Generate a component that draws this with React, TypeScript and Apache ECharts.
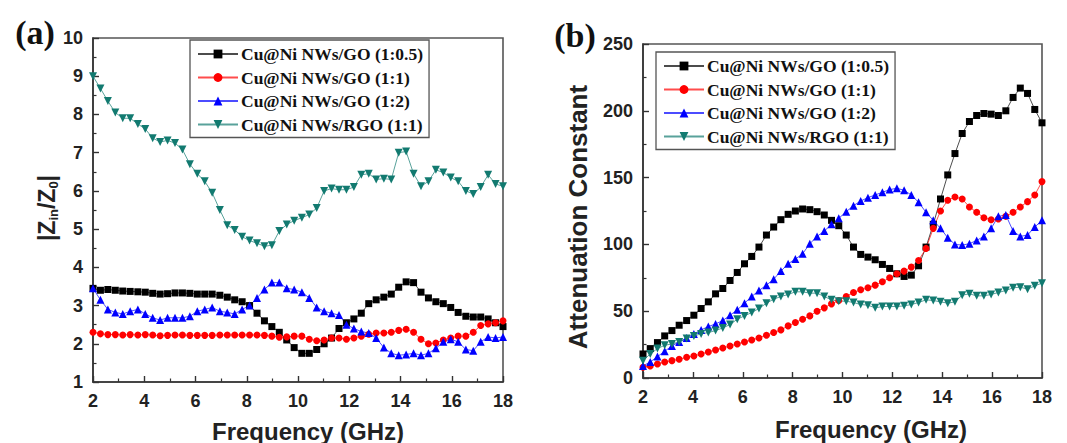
import React, { useEffect, useRef } from "react";
import * as echarts from "echarts";

const freq = [2.00, 2.29, 2.58, 2.87, 3.16, 3.45, 3.75, 4.04, 4.33, 4.62, 4.91, 5.20, 5.49, 5.78, 6.07, 6.36, 6.65, 6.95, 7.24, 7.53, 7.82, 8.11, 8.40, 8.69, 8.98, 9.27, 9.56, 9.85, 10.15, 10.44, 10.73, 11.02, 11.31, 11.60, 11.89, 12.18, 12.47, 12.76, 13.05, 13.35, 13.64, 13.93, 14.22, 14.51, 14.80, 15.09, 15.38, 15.67, 15.96, 16.25, 16.55, 16.84, 17.13, 17.42, 17.71, 18.00];

const seriesNames = ["Cu@Ni NWs/GO (1:0.5)", "Cu@Ni NWs/GO (1:1)", "Cu@Ni NWs/GO (1:2)", "Cu@Ni NWs/RGO (1:1)"];

// Panel (a) |Zin/Z0|
const zGO05 = [3.45, 3.4, 3.42, 3.4, 3.38, 3.37, 3.36, 3.35, 3.32, 3.3, 3.31, 3.33, 3.33, 3.32, 3.3, 3.3, 3.3, 3.27, 3.22, 3.15, 3.1, 3.0, 2.8, 2.6, 2.45, 2.3, 2.1, 1.9, 1.75, 1.75, 1.85, 2.0, 2.15, 2.4, 2.55, 2.65, 2.8, 3.05, 3.15, 3.22, 3.3, 3.48, 3.62, 3.6, 3.35, 3.2, 3.1, 3.05, 2.95, 2.82, 2.72, 2.7, 2.7, 2.65, 2.55, 2.45];
const zGO11 = [2.3, 2.26, 2.24, 2.24, 2.23, 2.24, 2.23, 2.24, 2.23, 2.21, 2.22, 2.23, 2.23, 2.22, 2.22, 2.22, 2.22, 2.23, 2.23, 2.23, 2.23, 2.23, 2.23, 2.22, 2.2, 2.17, 2.18, 2.2, 2.2, 2.12, 2.08, 2.1, 2.15, 2.15, 2.12, 2.15, 2.2, 2.25, 2.28, 2.28, 2.3, 2.35, 2.38, 2.3, 2.12, 2.0, 2.02, 2.1, 2.15, 2.2, 2.2, 2.3, 2.48, 2.52, 2.55, 2.6];
const zGO12 = [3.45, 3.15, 2.9, 2.82, 2.78, 2.85, 2.9, 2.78, 2.68, 2.62, 2.68, 2.68, 2.68, 2.72, 2.85, 2.9, 2.95, 2.85, 2.82, 2.78, 2.9, 3.0, 3.2, 3.42, 3.6, 3.6, 3.45, 3.42, 3.35, 3.2, 2.95, 2.85, 2.8, 2.75, 2.5, 2.4, 2.32, 2.28, 2.15, 1.9, 1.75, 1.7, 1.72, 1.75, 1.7, 1.75, 1.88, 2.05, 2.12, 2.05, 1.85, 1.82, 2.05, 2.18, 2.15, 2.18];
const zRGO11 = [9.0, 8.68, 8.35, 8.05, 7.9, 7.9, 7.75, 7.62, 7.38, 7.28, 7.32, 7.25, 7.08, 6.7, 6.45, 6.25, 5.95, 5.5, 5.1, 4.98, 4.8, 4.7, 4.63, 4.55, 4.58, 4.95, 5.12, 5.22, 5.3, 5.38, 5.55, 6.0, 6.06, 6.03, 6.03, 6.1, 6.42, 6.45, 6.3, 6.32, 6.3, 7.0, 7.03, 6.45, 6.12, 6.25, 6.55, 6.48, 6.35, 6.25, 6.0, 5.92, 6.1, 6.42, 6.18, 6.12];

// Panel (b) Attenuation constant
const aGO05 = [18, 22, 26.5, 31.5, 35.5, 39.5, 43, 47, 52, 57, 63, 67, 73, 79, 85.5, 91, 98, 107, 113, 118.5, 122.5, 125, 126.5, 126, 124.5, 122, 118, 114, 107, 98, 92.5, 90.5, 88.5, 85, 82, 78, 76, 77, 84, 98, 115, 134, 152, 168, 183, 192, 196.5, 198, 197.5, 196.5, 200, 210, 217, 213, 201, 191];
const aGO11 = [8, 9, 10.5, 12, 13, 14, 15.5, 16.5, 18, 19.5, 21, 22.5, 24, 25.5, 27, 28.5, 30, 32, 34, 36, 39, 41.5, 44, 46.5, 50, 52.5, 55.5, 58, 61, 64, 66, 67.5, 69.5, 72, 75, 78, 80, 83, 88, 97, 112, 125, 133, 135.5, 134, 128, 124, 120, 118.5, 119, 121, 124, 128, 132, 137, 147];
const aGO12 = [9, 12, 16, 20, 24, 27, 30, 33, 36, 38.5, 40.5, 43, 47, 51, 56, 61, 65.5, 69.5, 74, 80, 85.5, 89, 93, 100.5, 106, 110, 115, 119.5, 124.5, 129, 132.5, 135, 137, 139, 141, 142, 140.5, 137, 131.5, 124, 118, 112, 105, 100, 99.5, 100.5, 103, 106, 112, 121, 122, 110, 106, 107, 113, 118];
const aRGO11 = [13, 18, 22, 24.5, 25.5, 27, 29.5, 31.5, 33, 34, 35.5, 37.5, 40, 44, 46.5, 49, 52, 56, 59, 61, 62.5, 64.5, 64.5, 63.5, 63.5, 61, 58.5, 57.5, 57.5, 56.5, 55, 54.5, 52.5, 53.5, 53.5, 53.5, 54, 55, 56.5, 58.5, 58, 57, 56, 57, 62, 63, 61.5, 61.5, 62.5, 64, 65.5, 67.5, 68, 66.5, 69, 71];

const colors = ["#000000", "#ff0000", "#0000ff", "#127a70"];
const symbols = ["rect", "circle", "triangle", "path://M0,0 L10,0 L5,9 Z"];
const symbolSizes = [7, 7, 8, 8];

const sans = "'Liberation Sans', Arial, sans-serif";
const serif = "'Liberation Serif', 'Times New Roman', serif";

function axisCommon() {
  return {
    axisLine: { show: true, onZero: false, lineStyle: { color: "#333", width: 1.6 } },
    axisTick: { show: true, inside: true, length: 6, lineStyle: { color: "#333", width: 1.4 } },
    minorTick: { show: true, splitNumber: 2, length: 3.5, lineStyle: { color: "#333", width: 1.2 } },
    splitLine: { show: false },
    axisLabel: { fontFamily: sans, fontWeight: "bold", fontSize: 18, color: "#222", margin: 10 },
  };
}

function makeX(gridIndex: number) {
  return { type: "value", gridIndex, min: 2, max: 18, interval: 2, ...axisCommon() };
}

function makeY(gridIndex: number, min: number, max: number, interval: number) {
  return { type: "value", gridIndex, min, max, interval, ...axisCommon() };
}

function makeSeries(idx: number, gridIdx: number, values: number[]) {
  return {
    type: "line",
    name: seriesNames[idx],
    xAxisIndex: gridIdx,
    yAxisIndex: gridIdx,
    data: freq.map((f, i) => [f, values[i]]),
    symbol: symbols[idx],
    symbolSize: symbolSizes[idx],
    showAllSymbol: true,
    lineStyle: { color: colors[idx], width: 1, opacity: 0.7 },
    itemStyle: { color: colors[idx] },
    clip: true,
  };
}

function makeLegend(left: number, top: number) {
  return {
    orient: "vertical",
    left,
    top,
    itemWidth: 40,
    itemHeight: 11,
    itemGap: 5.5,
    padding: [5, 6, 4, 7],
    borderColor: "#555",
    borderWidth: 1.3,
    backgroundColor: "#fff",
    selectedMode: false,
    textStyle: { fontFamily: serif, fontWeight: "bold", fontSize: 17.5, color: "#111", padding: [0, 0, 0, -2] },
    data: seriesNames,
  };
}

export default function App() {
  const ref = useRef<HTMLDivElement>(null);
  useEffect(() => {
    if (!ref.current) return;
    const chart = echarts.init(ref.current, null, { renderer: "svg" });
    chart.setOption({
      animation: false,
      backgroundColor: "#fff",
      grid: [
        { left: 93, top: 38, width: 410, height: 344, show: true, borderColor: "#555", borderWidth: 1.6, backgroundColor: "transparent" },
        { left: 643, top: 44, width: 399, height: 334, show: true, borderColor: "#555", borderWidth: 1.6, backgroundColor: "transparent" },
      ],
      xAxis: [makeX(0), makeX(1)],
      yAxis: [makeY(0, 1, 10, 1), makeY(1, 0, 250, 50)],
      legend: [makeLegend(190, 40), makeLegend(656, 52)],
      series: [
        makeSeries(0, 0, zGO05),
        makeSeries(1, 0, zGO11),
        makeSeries(2, 0, zGO12),
        makeSeries(3, 0, zRGO11),
        makeSeries(0, 1, aGO05),
        makeSeries(1, 1, aGO11),
        makeSeries(2, 1, aGO12),
        makeSeries(3, 1, aRGO11),
      ],
      graphic: [
        { type: "text", x: 35, y: 32, style: { text: "(a)", font: `bold 34px ${serif}`, fill: "#111", align: "center", verticalAlign: "middle" } },
        { type: "text", x: 575, y: 35, style: { text: "(b)", font: `bold 34px ${serif}`, fill: "#111", align: "center", verticalAlign: "middle" } },
        { type: "text", x: 308, y: 431, style: { text: "Frequency (GHz)", font: `bold 24px ${sans}`, fill: "#222", align: "center", verticalAlign: "middle" } },
        { type: "text", x: 871, y: 429, style: { text: "Frequency (GHz)", font: `bold 24px ${sans}`, fill: "#222", align: "center", verticalAlign: "middle" } },
        {
          type: "text", x: 47, y: 208, rotation: Math.PI / 2,
          style: {
            text: "{m||Z}{s|in}{m|/Z}{s|0}{m||}",
            align: "center", verticalAlign: "middle", fill: "#222",
            rich: {
              m: { fontFamily: sans, fontWeight: "bold", fontSize: 23, lineHeight: 26, verticalAlign: "middle", fill: "#222" },
              s: { fontFamily: sans, fontWeight: "bold", fontSize: 13, lineHeight: 12, verticalAlign: "bottom", fill: "#222" },
            },
          },
        },
        { type: "text", x: 578, y: 217, rotation: Math.PI / 2, style: { text: "Attenuation Constant", font: `bold 26px ${sans}`, fill: "#222", align: "center", verticalAlign: "middle" } },
      ],
    });
    return () => chart.dispose();
  }, []);
  return <div ref={ref} style={{ position: "absolute", left: 0, top: 0, width: 1067, height: 443 }} />;
}
